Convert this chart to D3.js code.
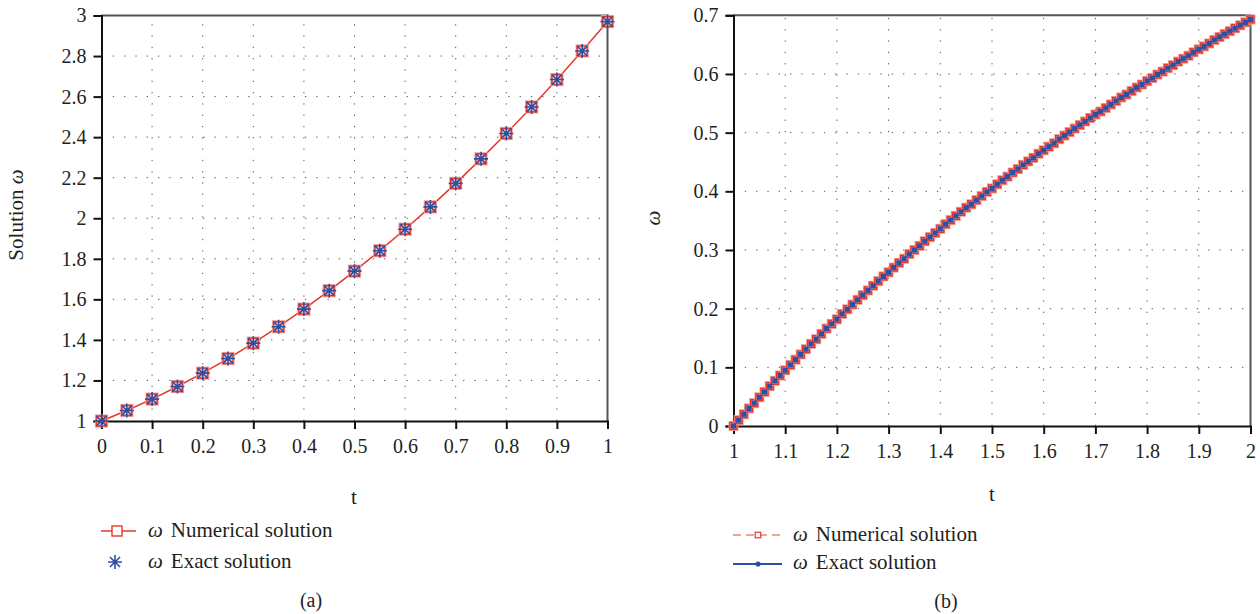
<!DOCTYPE html>
<html>
<head>
<meta charset="utf-8">
<script src="https://cdn.jsdelivr.net/npm/d3@7"></script>
<style>
  body { margin: 0; background: #fff; }
  svg text { font-family: "Liberation Serif", "DejaVu Serif", serif; fill: #231f20; }
</style>
</head>
<body>
<svg id="chart" width="1260" height="614"></svg>
<script>
// ---- data: panel (a)
var tA = [0, 0.05, 0.1, 0.15, 0.2, 0.25, 0.3, 0.35, 0.4, 0.45, 0.5,
          0.55, 0.6, 0.65, 0.7, 0.75, 0.8, 0.85, 0.9, 0.95, 1];
var numA = [1.000, 1.052, 1.108, 1.170, 1.236, 1.308, 1.384, 1.465, 1.552, 1.643, 1.739,
            1.840, 1.946, 2.056, 2.172, 2.293, 2.418, 2.549, 2.684, 2.825, 2.970];
var exactA = [1.000, 1.052, 1.108, 1.170, 1.236, 1.308, 1.384, 1.465, 1.552, 1.643, 1.739,
              1.840, 1.946, 2.056, 2.172, 2.293, 2.418, 2.549, 2.684, 2.825, 2.970];
var xTicksA = [0, 0.1, 0.2, 0.3, 0.4, 0.5, 0.6, 0.7, 0.8, 0.9, 1];
var yTicksA = [1, 1.2, 1.4, 1.6, 1.8, 2, 2.2, 2.4, 2.6, 2.8, 3];

// ---- data: panel (b)
var tB = [1.00, 1.01, 1.02, 1.03, 1.04, 1.05, 1.06, 1.07, 1.08, 1.09,
          1.10, 1.11, 1.12, 1.13, 1.14, 1.15, 1.16, 1.17, 1.18, 1.19,
          1.20, 1.21, 1.22, 1.23, 1.24, 1.25, 1.26, 1.27, 1.28, 1.29,
          1.30, 1.31, 1.32, 1.33, 1.34, 1.35, 1.36, 1.37, 1.38, 1.39,
          1.40, 1.41, 1.42, 1.43, 1.44, 1.45, 1.46, 1.47, 1.48, 1.49,
          1.50, 1.51, 1.52, 1.53, 1.54, 1.55, 1.56, 1.57, 1.58, 1.59,
          1.60, 1.61, 1.62, 1.63, 1.64, 1.65, 1.66, 1.67, 1.68, 1.69,
          1.70, 1.71, 1.72, 1.73, 1.74, 1.75, 1.76, 1.77, 1.78, 1.79,
          1.80, 1.81, 1.82, 1.83, 1.84, 1.85, 1.86, 1.87, 1.88, 1.89,
          1.90, 1.91, 1.92, 1.93, 1.94, 1.95, 1.96, 1.97, 1.98, 1.99, 2.00];
var numB = [0.000, 0.010, 0.020, 0.030, 0.039, 0.049, 0.058, 0.068, 0.077, 0.086,
            0.095, 0.104, 0.113, 0.122, 0.131, 0.140, 0.148, 0.157, 0.166, 0.174,
            0.182, 0.191, 0.199, 0.207, 0.215, 0.223, 0.231, 0.239, 0.247, 0.255,
            0.262, 0.270, 0.278, 0.285, 0.293, 0.300, 0.307, 0.315, 0.322, 0.329,
            0.336, 0.344, 0.351, 0.358, 0.365, 0.372, 0.378, 0.385, 0.392, 0.399,
            0.405, 0.412, 0.419, 0.425, 0.432, 0.438, 0.445, 0.451, 0.457, 0.464,
            0.470, 0.476, 0.482, 0.489, 0.495, 0.501, 0.507, 0.513, 0.519, 0.525,
            0.531, 0.536, 0.542, 0.548, 0.554, 0.560, 0.565, 0.571, 0.577, 0.582,
            0.588, 0.593, 0.599, 0.604, 0.610, 0.615, 0.621, 0.626, 0.631, 0.637,
            0.642, 0.647, 0.652, 0.658, 0.663, 0.668, 0.673, 0.678, 0.683, 0.688, 0.693];
var exactB = numB.slice();
var xTicksB = [1, 1.1, 1.2, 1.3, 1.4, 1.5, 1.6, 1.7, 1.8, 1.9, 2];
var yTicksB = [0, 0.1, 0.2, 0.3, 0.4, 0.5, 0.6, 0.7];

var RED = "#e5382c", BLUE = "#2e4fa3";
var svg = d3.select("#chart");

// draws frame, grid and axes for one panel
function panel(x, y, xt, yt) {
  var x0 = x.range()[0], x1 = x.range()[1], y0 = y.range()[0], y1 = y.range()[1];
  var g = svg.append("g");
  // dotted grid
  g.selectAll(".hg").data(yt.slice(1, -1)).join("line")
    .attr("x1", x0).attr("x2", x1).attr("y1", d => y(d)).attr("y2", d => y(d))
    .attr("stroke", "#555").attr("stroke-width", 1).attr("stroke-dasharray", "1.3 10");
  g.selectAll(".vg").data(xt.slice(1, -1)).join("line")
    .attr("y1", y0).attr("y2", y1).attr("x1", d => x(d)).attr("x2", d => x(d))
    .attr("stroke", "#555").attr("stroke-width", 1).attr("stroke-dasharray", "1.3 10");
  // box
  g.append("path").attr("d", "M" + x0 + "," + y1 + "H" + x1 + "V" + y0)
    .attr("fill", "none").attr("stroke", "#555").attr("stroke-width", 2);

  var ax = g.append("g").attr("transform", "translate(0," + y0 + ")")
    .call(d3.axisBottom(x).tickValues(xt).tickSize(8).tickPadding(8).tickFormat(d => +d.toFixed(2)));
  var ay = g.append("g").attr("transform", "translate(" + x0 + ",0)")
    .call(d3.axisLeft(y).tickValues(yt).tickSize(8).tickPadding(7).tickFormat(d => +d.toFixed(2)));
  [ax, ay].forEach(function (a) {
    a.attr("font-size", 20).attr("font-family", "Liberation Serif");
    a.select(".domain").attr("stroke", "#111").attr("stroke-width", 2);
    a.selectAll(".tick line").attr("stroke", "#111").attr("stroke-width", 2);
    a.selectAll(".tick text").attr("fill", "#231f20");
  });
  ax.selectAll(".tick text").attr("dy", "0.8em");
  return g;
}

// ---------- panel (a)
var xA = d3.scaleLinear().domain([0, 1]).range([101.5, 607.5]);
var yA = d3.scaleLinear().domain([1, 3]).range([421, 15.5]);
panel(xA, yA, xTicksA, yTicksA);

var lineA = d3.line().x((d, i) => xA(tA[i])).y(d => yA(d));
svg.append("path").datum(numA).attr("d", lineA)
  .attr("fill", "none").attr("stroke", RED).attr("stroke-width", 1.5);

function square(sel, s, stroke, fill, sw) {
  return sel.append("rect").attr("x", -s / 2).attr("y", -s / 2).attr("width", s).attr("height", s)
    .attr("fill", fill).attr("stroke", stroke).attr("stroke-width", sw);
}
function asterisk(sel, r, c) {
  var k = r * 0.72;
  return sel.append("path")
    .attr("d", "M0," + -r + "V" + r + "M" + -r + ",0H" + r +
      "M" + -k + "," + -k + "L" + k + "," + k + "M" + -k + "," + k + "L" + k + "," + -k)
    .attr("stroke", c).attr("stroke-width", 1.6).attr("fill", "none");
}

svg.append("g").selectAll("g").data(numA).join("g")
  .attr("transform", (d, i) => "translate(" + xA(tA[i]) + "," + yA(d) + ")")
  .each(function () {
    square(d3.select(this), 10, "#f2a49c", "none", 3.2);
    square(d3.select(this), 10, RED, "none", 1.4);
  });
svg.append("g").selectAll("g").data(exactA).join("g")
  .attr("transform", (d, i) => "translate(" + xA(tA[i]) + "," + yA(d) + ")")
  .each(function () { asterisk(d3.select(this), 7, BLUE); });

svg.append("text").attr("x", 354).attr("y", 504).attr("text-anchor", "middle")
  .attr("font-size", 21).text("t");
svg.append("text").attr("transform", "translate(23,215) rotate(-90)").attr("text-anchor", "middle")
  .attr("font-size", 21)
  .call(t => { t.append("tspan").text("Solution "); t.append("tspan").attr("font-style", "italic").text("ω"); });

// legend (a)
var lgA = svg.append("g");
lgA.append("line").attr("x1", 101).attr("x2", 136).attr("y1", 531).attr("y2", 531)
  .attr("stroke", RED).attr("stroke-width", 1.5);
square(lgA.append("g").attr("transform", "translate(117,531)"), 10, RED, "#fff", 1.4);
asterisk(lgA.append("g").attr("transform", "translate(115,562)"), 7, BLUE);
[["Numerical solution", 537], ["Exact solution", 568]].forEach(function (r) {
  var t = lgA.append("text").attr("x", 148).attr("y", r[1]).attr("font-size", 21);
  t.append("tspan").attr("font-style", "italic").text("ω");
  t.append("tspan").attr("dx", 8).text(r[0]);
});
svg.append("text").attr("x", 311).attr("y", 607).attr("text-anchor", "middle")
  .attr("font-size", 20).text("(a)");

// ---------- panel (b)
var xB = d3.scaleLinear().domain([1, 2]).range([733.5, 1250.5]);
var yB = d3.scaleLinear().domain([0, 0.7]).range([426, 15.3]);
panel(xB, yB, xTicksB, yTicksB);

var lineB = d3.line().x((d, i) => xB(tB[i])).y(d => yB(d));
svg.append("path").datum(exactB).attr("d", lineB)
  .attr("fill", "none").attr("stroke", BLUE).attr("stroke-width", 2);
svg.append("g").selectAll("g").data(numB).join("g")
  .attr("transform", (d, i) => "translate(" + xB(tB[i]) + "," + yB(d) + ")")
  .each(function () {
    square(d3.select(this), 7, "#f2a49c", "none", 3);
    square(d3.select(this), 7, RED, "none", 1.4);
  });
svg.append("g").selectAll("rect").data(exactB).join("rect")
  .attr("x", (d, i) => xB(tB[i]) - 2.6).attr("y", d => yB(d) - 2.6)
  .attr("width", 5.2).attr("height", 5.2).attr("fill", BLUE);

svg.append("text").attr("x", 992).attr("y", 501).attr("text-anchor", "middle")
  .attr("font-size", 21).text("t");
svg.append("text").attr("transform", "translate(660,218) rotate(-90)").attr("text-anchor", "middle")
  .attr("font-size", 21).attr("font-style", "italic").text("ω");

// legend (b)
var lgB = svg.append("g");
lgB.append("line").attr("x1", 733).attr("x2", 782).attr("y1", 535).attr("y2", 535)
  .attr("stroke", "#ec8479").attr("stroke-width", 1.5).attr("stroke-dasharray", "8 5");
square(lgB.append("g").attr("transform", "translate(758,535)"), 5.5, RED, "#fff", 1.2);
lgB.append("line").attr("x1", 733).attr("x2", 782).attr("y1", 564).attr("y2", 564)
  .attr("stroke", BLUE).attr("stroke-width", 2);
lgB.append("circle").attr("cx", 758).attr("cy", 564).attr("r", 2.6).attr("fill", BLUE);
[["Numerical solution", 541], ["Exact solution", 569]].forEach(function (r) {
  var t = lgB.append("text").attr("x", 793).attr("y", r[1]).attr("font-size", 21);
  t.append("tspan").attr("font-style", "italic").text("ω");
  t.append("tspan").attr("dx", 8).text(r[0]);
});
svg.append("text").attr("x", 946).attr("y", 608).attr("text-anchor", "middle")
  .attr("font-size", 20).text("(b)");
</script>
</body>
</html>
